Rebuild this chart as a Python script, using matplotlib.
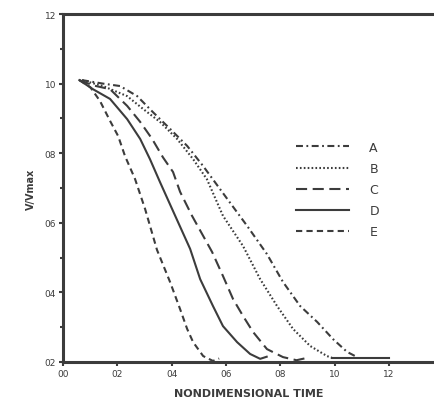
import matplotlib
matplotlib.use("Agg")
import matplotlib.pyplot as plt
from matplotlib.ticker import FixedLocator

plt.rcParams['lines.scale_dashes'] = False
plt.rcParams['font.family'] = ['DejaVu Sans']

# ---- data ----
A_x = [0.07, 0.147, 0.21, 0.273, 0.331, 0.394, 0.457, 0.516, 0.578, 0.678, 0.751, 0.810, 0.873, 0.936, 0.994, 1.046, 1.083]
A_y = [1.01, 1.00, 0.993, 0.964, 0.918, 0.870, 0.821, 0.763, 0.697, 0.591, 0.510, 0.430, 0.361, 0.315, 0.266, 0.229, 0.214]

B_x = [0.07, 0.147, 0.236, 0.295, 0.357, 0.420, 0.479, 0.530, 0.589, 0.663, 0.726, 0.788, 0.847, 0.910, 0.972, 0.99]
B_y = [1.01, 0.993, 0.964, 0.927, 0.890, 0.841, 0.783, 0.725, 0.620, 0.533, 0.438, 0.361, 0.295, 0.246, 0.217, 0.212]
B_tail_x = [0.99, 1.20]
B_tail_y = [0.212, 0.212]

C_x = [0.06, 0.11, 0.173, 0.236, 0.284, 0.328, 0.368, 0.405, 0.431, 0.475, 0.549, 0.589, 0.626, 0.663, 0.700, 0.751, 0.810, 0.86, 0.90]
C_y = [1.01, 0.995, 0.984, 0.936, 0.890, 0.841, 0.788, 0.746, 0.689, 0.620, 0.516, 0.447, 0.381, 0.332, 0.286, 0.237, 0.214, 0.205, 0.212]

D_x = [0.06, 0.11, 0.173, 0.236, 0.284, 0.320, 0.357, 0.413, 0.468, 0.505, 0.552, 0.589, 0.641, 0.689, 0.726, 0.75]
D_y = [1.01, 0.984, 0.956, 0.898, 0.841, 0.783, 0.717, 0.620, 0.525, 0.438, 0.361, 0.303, 0.257, 0.223, 0.209, 0.215]

E_x = [0.06, 0.10, 0.136, 0.173, 0.203, 0.228, 0.265, 0.302, 0.346, 0.394, 0.431, 0.457, 0.479, 0.516, 0.552, 0.575]
E_y = [1.01, 0.99, 0.95, 0.893, 0.849, 0.792, 0.726, 0.640, 0.522, 0.430, 0.352, 0.295, 0.257, 0.217, 0.203, 0.21]

x_ticks = [0.0, 0.2, 0.4, 0.6, 0.8, 1.0, 1.2]
x_tick_labels = ["00", "02", "04", "06", "08", "10", "12"]
y_ticks = [0.2, 0.4, 0.6, 0.8, 1.0, 1.2]
y_tick_labels = ["02", "04", "06", "08", "10", "12"]
y_minor = [0.3, 0.5, 0.7, 0.9, 1.1]

labels = ["A", "B", "C", "D", "E"]

# ---- drawing ----
col = "#3c3c3c"
fig = plt.figure(figsize=(4.35, 4.06), dpi=100)
ax = fig.add_axes([0.145, 0.106, 0.855, 0.857])

lw = 1.5
lA, = ax.plot(A_x, A_y, color=col, lw=lw, dashes=(5, 2.5, 1.3, 2.5))
lB, = ax.plot(B_x, B_y, color=col, lw=lw, dashes=(1.2, 1.6))
ax.plot(B_tail_x, B_tail_y, color=col, lw=lw)
lC, = ax.plot(C_x, C_y, color=col, lw=lw, dashes=(8, 4))
lD, = ax.plot(D_x, D_y, color=col, lw=lw)
lE, = ax.plot(E_x, E_y, color=col, lw=lw, dashes=(4.5, 3))

ax.set_xlim(0, 1.37)
ax.set_ylim(0.2, 1.2)

ax.spines['right'].set_visible(False)
for s in ['left', 'bottom', 'top']:
    ax.spines[s].set_linewidth(2.2)
    ax.spines[s].set_color(col)

ax.xaxis.set_major_locator(FixedLocator(x_ticks))
ax.set_xticklabels(x_tick_labels)
ax.yaxis.set_major_locator(FixedLocator(y_ticks))
ax.set_yticklabels(y_tick_labels)
ax.yaxis.set_minor_locator(FixedLocator(y_minor))
ax.tick_params(axis='both', which='major', direction='out', length=3, width=1.5,
               color=col, labelsize=6.5, labelcolor=col, pad=2)
ax.tick_params(axis='y', which='minor', direction='out', length=2.5, width=1.5, color=col)

ax.set_xlabel("NONDIMENSIONAL TIME", fontsize=8, fontweight='bold', color=col, labelpad=7)
ax.set_ylabel("V/Vmax", fontsize=7, fontweight='bold', color=col, labelpad=6)

leg = ax.legend([lA, lB, lC, lD, lE], labels, loc='upper left',
                bbox_to_anchor=(0.595, 0.668), frameon=False, fontsize=9,
                handlelength=4.3, handletextpad=1.6, labelspacing=0.65)
for t in leg.get_texts():
    t.set_color(col)

fig.savefig("out.png", dpi=100, facecolor='white')
